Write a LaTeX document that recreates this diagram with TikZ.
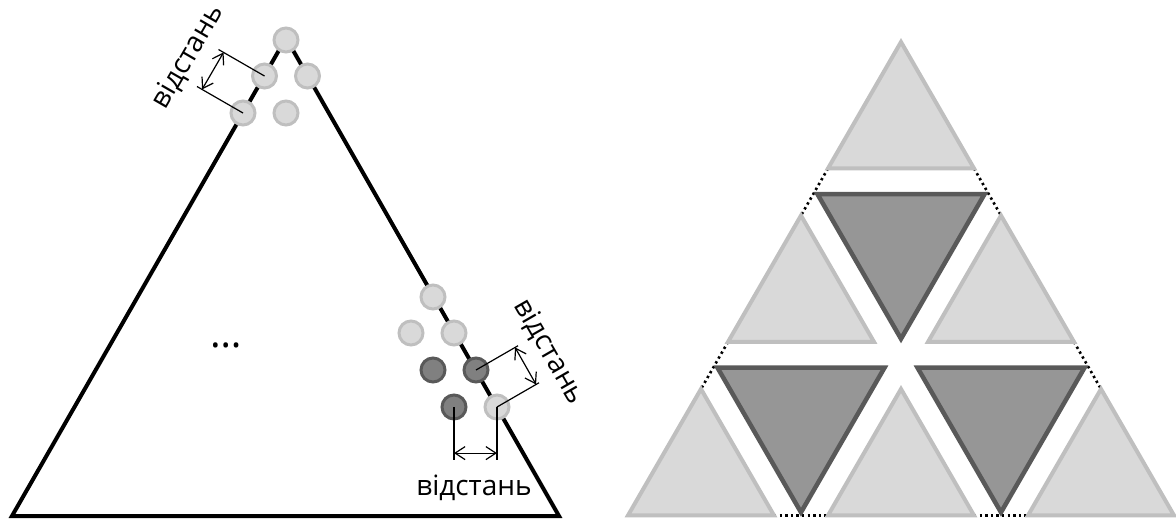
\documentclass[tikz,border=0pt]{standalone}
\usepackage{fontspec}
\setmainfont{Open Sans}
\usetikzlibrary{arrows.meta,calc}

\definecolor{lightfill}{RGB}{217,217,217}
\definecolor{lightedge}{RGB}{191,191,191}
\definecolor{darkfill}{RGB}{128,128,128}
\definecolor{darkedge}{RGB}{89,89,89}
\definecolor{darktrifill}{RGB}{150,150,150}

\begin{document}
\begin{tikzpicture}[x=1pt,y=-1pt,
  outline/.style={line width=4pt, line join=miter},
  dot/.style={circle, minimum size=24pt, inner sep=0pt, line width=3pt},
  lightdot/.style={dot, draw=lightedge, fill=lightfill},
  darkdot/.style={dot, draw=darkedge, fill=darkfill},
  extline/.style={line width=1.2pt},
  dimarrow/.style={line width=1.2pt,
    {Straight Barb[length=10pt,width=13pt]}-{Straight Barb[length=10pt,width=13pt]}},
  dimlabel/.style={font=\fontsize{28}{32}\selectfont, inner sep=0pt},
  lighttri/.style={draw=lightedge, fill=lightfill, line width=4pt, line join=miter},
  darktri/.style={draw=darkedge, fill=darktrifill, line width=4.5pt, line join=miter},
  gapdots/.style={line width=2.6pt, dash pattern=on 2.4pt off 3.2pt},
]
\useasboundingbox (0,0) rectangle (1176,520);

% ---------- left: triangle with grid points ----------
\coordinate (Lapex) at (286,38);
\coordinate (Lbl) at (12,516);
\coordinate (Lbr) at (559,516);
\draw[outline] (Lbl) -- (Lapex) -- (Lbr) -- cycle;

% points near the apex
\node[lightdot] (a0) at (286,40) {};
\node[lightdot] (a1) at (264.5,76) {};
\node[lightdot] (a2) at (307.5,76) {};
\node[lightdot] (a3) at (243,113) {};
\node[lightdot] (a4) at (286,113) {};

% points near the right edge
\node[lightdot] (b0) at (433,297) {};
\node[lightdot] (b1) at (411,333) {};
\node[lightdot] (b2) at (454,333) {};
\node[darkdot]  (b3) at (433,370) {};
\node[darkdot]  (b4) at (476,370) {};
\node[darkdot]  (b5) at (454,407) {};
\node[lightdot] (b6) at (497,407) {};

\node[font=\fontsize{40}{44}\selectfont, anchor=base, inner sep=0pt] (dots) at (226,347) {\ldots};

% distance between rows, upper-left edge
\draw[extline] (a1.center) -- ++(-46,-26.5) coordinate (ea1);
\draw[extline] (a3.center) -- ++(-46,-26.5) coordinate (ea3);
\draw[dimarrow] ($(a1.center)!0.89!(ea1)$) -- ($(a3.center)!0.89!(ea3)$);
\node[dimlabel, rotate=60] (la) at (188,57) {відстань};

% distance between rows, right edge
\draw[extline] (b4.center) -- ++(42,-24.25) coordinate (eb4);
\draw[extline] (b6.center) -- ++(42,-24.25) coordinate (eb6);
\draw[dimarrow] ($(b4.center)!0.93!(eb4)$) -- ($(b6.center)!0.93!(eb6)$);
\node[dimlabel, rotate=-60] (lb) at (549,352) {відстань};

% horizontal distance
\draw[extline] (b5.center) -- ++(0,53) coordinate (ec5);
\draw[extline] (b6.center) -- ++(0,53) coordinate (ec6);
\draw[dimarrow] ($(b5.center)!0.87!(ec5)$) -- ($(b6.center)!0.87!(ec6)$);
\node[dimlabel] (lc) at (474,488) {відстань};

% ---------- right: subdivided triangle ----------
% corners of the upward (light) triangles
\foreach \k in {0,1,2}{
  \foreach \i in {0,...,\k}{
    \pgfmathsetmacro{\tx}{901+(\i-\k/2)*200}
    \pgfmathsetmacro{\ty}{42+\k*173.5}
    \coordinate (T\k\i) at (\tx,\ty);
    \coordinate (T\k\i r) at (\tx+73,\ty+126.4);
    \coordinate (T\k\i l) at (\tx-73,\ty+126.4);
  }
}

% dotted continuation of the outer outline across the gaps
\draw[gapdots] (T00l) -- (T10);
\draw[gapdots] (T00r) -- (T11);
\draw[gapdots] (T10l) -- (T20);
\draw[gapdots] (T11r) -- (T22);
\draw[gapdots] (T20r) -- (T21l);
\draw[gapdots] (T21r) -- (T22l);

% light triangles
\foreach \k in {0,1,2}{
  \foreach \i in {0,...,\k}{
    \draw[lighttri] (T\k\i) -- (T\k\i r) -- (T\k\i l) -- cycle;
  }
}

% dark (downward) triangles
\foreach \k in {1,2}{
  \pgfmathtruncatemacro{\jmax}{\k-1}
  \foreach \j in {0,...,\jmax}{
    \pgfmathsetmacro{\dx}{901+(\j-(\k-1)/2)*200}
    \pgfmathsetmacro{\dy}{194.2+(\k-1)*173.5}
    \draw[darktri] (\dx-83.5,\dy) -- (\dx+83.5,\dy) -- (\dx,\dy+144.6) -- cycle;
  }
}
\end{tikzpicture}
\end{document}
